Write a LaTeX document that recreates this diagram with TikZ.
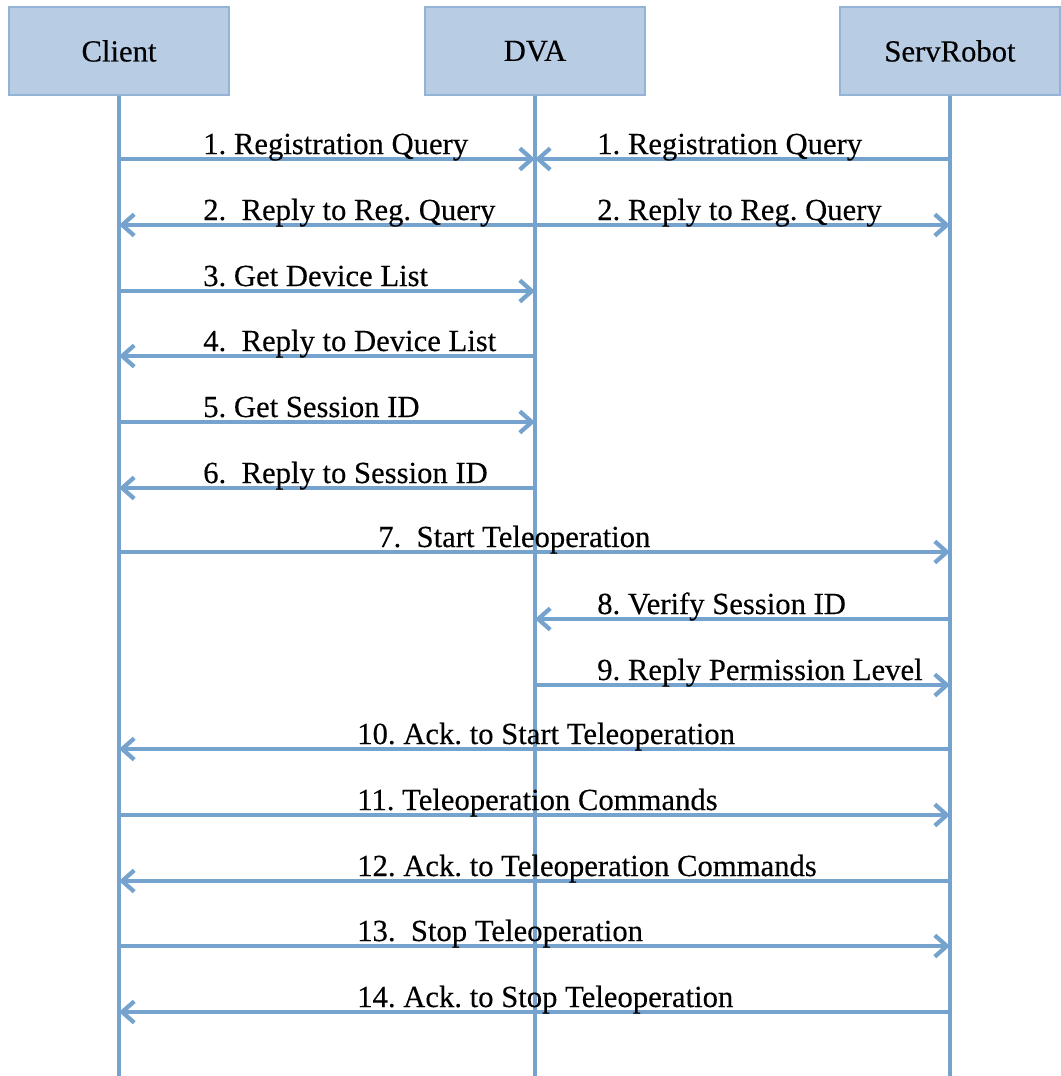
\documentclass[tikz,border=0pt]{standalone}
\usepackage{fontspec}
\setmainfont{Liberation Serif}
\newfontfamily\diagfont{Liberation Serif}[FakeBold=0.3]
\usetikzlibrary{arrows.meta}
\definecolor{boxfill}{RGB}{184,204,228}
\definecolor{boxedge}{RGB}{149,179,215}
\definecolor{flow}{RGB}{117,163,206}
\frenchspacing
\begin{document}
\begin{tikzpicture}[x=0.75pt,y=-0.75pt,
  actor/.style={draw=boxedge, line width=1.2pt, fill=boxfill,
    minimum width=165pt, minimum height=66pt, inner sep=0pt,
    font=\diagfont\fontsize{23}{26}\selectfont},
  life/.style={draw=flow, line width=3.2pt},
  msg/.style={draw=flow, line width=3.2pt,
    -{Straight Barb[length=9pt,width=16pt]}},
  lbl/.style={anchor=base west, inner sep=0pt,
    font=\diagfont\fontsize{23}{26}\selectfont}
]
\useasboundingbox (0,0) rectangle (1061,1076);

% participants
\node[actor] (client) at (119,51) {Client};
\node[actor] (dva)    at (535,51) {DVA};
\node[actor] (robot)  at (950,51) {ServRobot};

% lifelines
\coordinate (clientEnd) at (119,1076);
\coordinate (dvaEnd)    at (535,1076);
\coordinate (robotEnd)  at (950,1076);
\draw[life] (client.south) -- (clientEnd);
\draw[life] (dva.south)    -- (dvaEnd);
\draw[life] (robot.south)  -- (robotEnd);

% message rows: anchor points on each lifeline
\foreach \i/\y in {1/159,2/225,3/291,4/356,5/422,6/488,7/552,
                   8/619,9/685,10/749,11/815,12/881,13/946,14/1012}{
  \coordinate (C\i) at (119,\y);
  \coordinate (D\i) at (535,\y);
  \coordinate (S\i) at (950,\y);
}

% messages
\draw[msg] (C1) -- (D1);
\draw[msg] (S1) -- (D1);
\draw[msg] (D2) -- (C2);
\draw[msg] (D2) -- (S2);
\draw[msg] (C3) -- (D3);
\draw[msg] (D4) -- (C4);
\draw[msg] (C5) -- (D5);
\draw[msg] (D6) -- (C6);
\draw[msg] (C7) -- (S7);
\draw[msg] (S8) -- (D8);
\draw[msg] (D9) -- (S9);
\draw[msg] (S10) -- (C10);
\draw[msg] (C11) -- (S11);
\draw[msg] (S12) -- (C12);
\draw[msg] (C13) -- (S13);
\draw[msg] (S14) -- (C14);

% labels
\node[lbl] (t1a) at (203,154) {1. Registration Query};
\node[lbl] (t1b) at (597,154) {1. Registration Query};
\node[lbl] (t2a) at (203,220) {2.~ Reply to Reg. Query};
\node[lbl] (t2b) at (597,220) {2. Reply to Reg. Query};
\node[lbl] (t3)  at (203,286) {3. Get Device List};
\node[lbl] (t4)  at (203,351) {4.~ Reply to Device List};
\node[lbl] (t5)  at (203,417) {5. Get Session ID};
\node[lbl] (t6)  at (203,483) {6.~ Reply to Session ID};
\node[lbl] (t7)  at (378,547) {7.~ Start Teleoperation};
\node[lbl] (t8)  at (597,614) {8. Verify Session ID};
\node[lbl] (t9)  at (597,680) {9. Reply Permission Level};
\node[lbl] (t10) at (357,744) {10. Ack. to Start Teleoperation};
\node[lbl] (t11) at (357,810) {11. Teleoperation Commands};
\node[lbl] (t12) at (357,876) {12. Ack. to Teleoperation Commands};
\node[lbl] (t13) at (357,941) {13.~ Stop Teleoperation};
\node[lbl] (t14) at (357,1007) {14. Ack. to Stop Teleoperation};
\end{tikzpicture}
\end{document}
